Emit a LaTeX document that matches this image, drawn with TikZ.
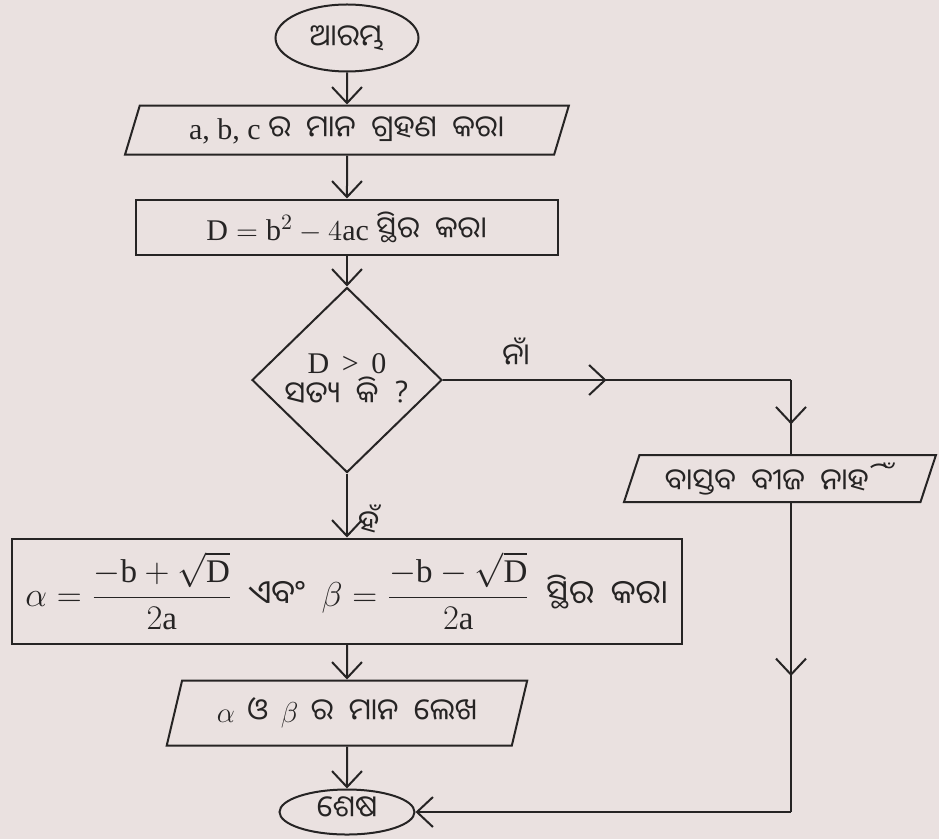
\documentclass[tikz,border=0pt]{standalone}
\usepackage{amsmath}
\usepackage{fontspec}
\setmainfont{Liberation Serif}
\newfontfamily\odia[Script=Oriya, WordSpace=2]{Noto Sans Oriya UI}
\usetikzlibrary{arrows.meta,positioning,shapes.geometric,decorations.markings,calc}
\definecolor{paper}{RGB}{234,225,224}
\definecolor{ink}{RGB}{38,36,36}
\tikzset{
  fl/.tip={Straight Barb[length=8pt, width=15pt, line width=1pt]},
  base/.style={draw=ink, line width=1pt, text=ink, align=center, font=\fontsize{15}{18}\selectfont},
  term/.style={base, ellipse, inner sep=1pt},
  io/.style={base, trapezium, trapezium left angle=72, trapezium right angle=108, trapezium stretches=true, inner sep=2pt},
  proc/.style={base, rectangle, inner sep=2pt},
  dec/.style={base, diamond, aspect=1, inner sep=0pt, minimum width=95pt, minimum height=92.5pt},
  line/.style={draw=ink, line width=1pt},
  arr/.style={line, -fl},
  midarr/.style={postaction={decorate}, decoration={markings, mark=at position #1 with {\arrow{fl}}}},
  lbl/.style={text=ink, font=\odia\fontsize{15}{18}\selectfont, inner sep=1pt}
}
\begin{document}
\begin{tikzpicture}[x=0.5pt, y=-0.5pt]
  \fill[paper] (0,0) rectangle (939,839);
  \useasboundingbox (0,0) rectangle (939,839);
  % main column
  \node[term, minimum width=71.5pt, minimum height=33.5pt] (start) at (347,38) {\odia ଆରମ୍ଭ};
  \node[io, below=16pt of start, minimum width=222pt, minimum height=24.5pt] (inp) {a, b, c {\odia ର ମାନ ଗ୍ରହଣ କର।}};
  \node[proc, below=21.5pt of inp, minimum width=211pt, minimum height=27.5pt] (calc) {$\mathrm{D} = \mathrm{b}^2 - 4\mathrm{ac}$ {\odia ସ୍ଥିର କର।}};
  \node[dec, below=15.5pt of calc] (chk) {D \,>\, 0\\[-2pt]{\odia ସତ୍ୟ କି ?}};
  \node[proc, below=32pt of chk, minimum width=335pt, minimum height=52.5pt, font=\fontsize{16.5}{19.5}\selectfont] (roots) {$\alpha = \dfrac{-\mathrm{b}+\sqrt{\mathrm{D}}}{2\mathrm{a}}$\enspace{\odia ଏବଂ}\enspace$\beta = \dfrac{-\mathrm{b}-\sqrt{\mathrm{D}}}{2\mathrm{a}}$\enspace{\odia ସ୍ଥିର କର।}};
  \node[io, below=17.5pt of roots, minimum width=180.5pt, minimum height=32.5pt] (out) {$\alpha$\, {\odia ଓ}\, $\beta$\, {\odia ର ମାନ ଲେଖ}};
  \node[term, below=21pt of out, minimum width=67.5pt, minimum height=22.5pt, inner sep=0pt, text height=10pt, text depth=3pt] (stop) {\odia ଶେଷ};
  % no branch
  \coordinate[right=174pt of chk.east] (c1);
  \node[io, below=37pt of c1, xshift=-5.5pt, minimum width=156pt, minimum height=23.5pt] (none) {\odia ବାସ୍ତବ ବୀଜ ନାହିଁ};
  \coordinate (c2) at (c1 |- stop);
  \draw[arr] (start) -- (inp);
  \draw[arr] (inp) -- (calc);
  \draw[arr] (calc) -- (chk);
  \draw[arr] (chk) -- node[lbl, right=4pt, pos=0.72]{ହଁ} (roots);
  \draw[arr] (roots) -- (out);
  \draw[arr] (out) -- (stop);
  \draw[line, midarr=0.47] (chk.east) -- node[lbl, above=5pt, pos=0.21]{ନାଁ} (c1);
  \draw[line, midarr=0.6] (c1) -- (c1 |- none.north);
  \draw[line, midarr=0.56] (c1 |- none.south) -- (c2);
  \draw[arr] (c2) -- (stop.east);
\end{tikzpicture}
\end{document}
